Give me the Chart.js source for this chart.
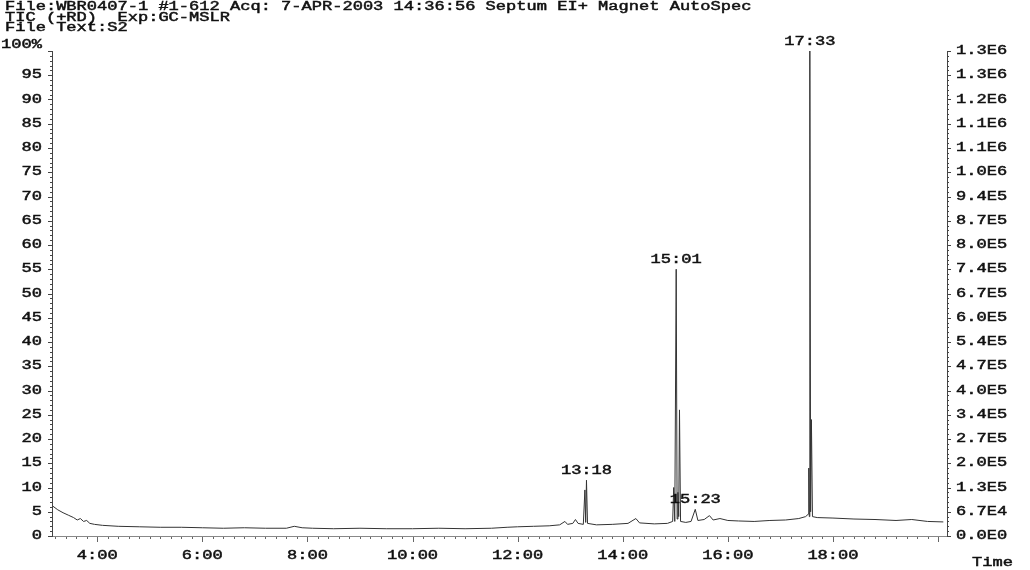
<!DOCTYPE html>
<html>
<head>
<meta charset="utf-8">
<script src="https://cdn.jsdelivr.net/npm/chart.js@4"></script>
<style>
  body { margin: 0; background: #fff; }
  #wrap { width: 1030px; height: 570px; }
</style>
</head>
<body>
<div id="wrap"><canvas id="tic" width="1030" height="570"></canvas></div>
<script>
// header lines of the printout
const headerLines = [
    'File:WBR0407-1 #1-612 Acq: 7-APR-2003 14:36:56 Septum EI+ Magnet AutoSpec',
    'TIC (+RD)  Exp:GC-MSLR',
    'File Text:S2'
];

// retention time (min) and relative intensity (%)
const waktu = [
    3.15, 3.25, 3.35, 3.45, 3.55, 3.62, 3.68, 3.74, 3.80, 3.86, 3.95, 4.10, 4.40, 4.80,
    5.20, 5.60, 6.00, 6.40, 6.80, 7.20, 7.60, 7.75, 7.90, 8.10, 8.50, 9.00, 9.50, 10.00,
    10.50, 11.00, 11.50, 11.80, 12.00, 12.30, 12.60, 12.80, 12.90, 12.95, 13.05, 13.10,
    13.15, 13.25, 13.28, 13.295, 13.31, 13.33, 13.50, 13.80, 14.10, 14.25, 14.32, 14.60,
    14.85, 14.95, 14.97, 14.99, 15.017, 15.035, 15.05, 15.065, 15.08, 15.10, 15.20, 15.30,
    15.38, 15.43, 15.55, 15.65, 15.72, 15.85, 16.00, 16.20, 16.50, 16.80, 17.10, 17.35,
    17.48, 17.53, 17.54, 17.55, 17.56, 17.575, 17.59, 17.61, 17.70, 18.00, 18.40, 18.80,
    19.20, 19.50, 19.80, 20.10
];
const intensitas = [
    6.2, 5.4, 4.8, 4.3, 3.8, 3.3, 3.6, 3.0, 3.2, 2.6, 2.4, 2.2, 2.0, 1.9,
    1.8, 1.8, 1.7, 1.6, 1.7, 1.6, 1.6, 2.0, 1.7, 1.6, 1.5, 1.6, 1.5, 1.5,
    1.6, 1.5, 1.6, 1.8, 1.9, 2.0, 2.1, 2.3, 3.0, 2.4, 2.6, 3.4,
    2.6, 2.4, 9.5, 2.8, 11.5, 2.6, 2.3, 2.4, 2.6, 3.6, 2.7, 2.5,
    2.6, 3.0, 10.0, 3.0, 55.0, 3.5, 9.0, 4.0, 26.0, 3.0, 2.8, 3.0,
    5.5, 3.2, 3.4, 4.2, 3.3, 3.6, 3.2, 3.1, 3.0, 3.2, 3.3, 3.6,
    4.0, 4.5, 14.0, 4.0, 100.0, 5.0, 24.0, 4.0, 3.8, 3.7, 3.5, 3.4,
    3.2, 3.4, 3.0, 2.9
];

// peak labels
const puncakWaktu = [13.31, 15.017, 15.38, 17.56];
const puncakNilai = [11.5, 55.0, 5.5, 100.0];
const puncakLabel = ['13:18', '15:01', '15:23', '17:33'];

// axis ticks
const xTicks = [4, 6, 8, 10, 12, 14, 16, 18];
const xTickLabels = ['4:00', '6:00', '8:00', '10:00', '12:00', '14:00', '16:00', '18:00'];
const yTicks = [100, 95, 90, 85, 80, 75, 70, 65, 60, 55, 50, 45, 40, 35, 30, 25, 20, 15, 10, 5, 0];
const yTickLabels = ['100%', '95', '90', '85', '80', '75', '70', '65', '60', '55', '50', '45', '40',
    '35', '30', '25', '20', '15', '10', '5', '0'];
const absMax = 1.34e6;
const absTickLabels = ['1.3E6', '1.3E6', '1.2E6', '1.1E6', '1.1E6', '1.0E6', '9.4E5', '8.7E5', '8.0E5',
    '7.4E5', '6.7E5', '6.0E5', '5.4E5', '4.7E5', '4.0E5', '3.4E5', '2.7E5', '2.0E5', '1.3E5', '6.7E4', '0.0E0'];

const SX = 1.42;
function teksLebar(ctx, str, x, y, align) {
    ctx.save();
    ctx.font = '12px "Liberation Mono"';
    ctx.fillStyle = '#111';
    ctx.strokeStyle = '#111';
    ctx.lineWidth = 0.45;
    const w = ctx.measureText(str).width * SX;
    let x0 = x;
    if (align === 'center') x0 = x - w / 2;
    if (align === 'right') x0 = x - w;
    ctx.translate(x0, y);
    ctx.scale(SX, 1);
    ctx.textAlign = 'left';
    ctx.textBaseline = 'middle';
    ctx.fillText(str, 0, 0);
    ctx.strokeText(str, 0, 0);
    ctx.restore();
}

const labelPlugin = {
    id: 'labelPlugin',
    afterDraw(chart) {
        const ctx = chart.ctx;
        const x = chart.scales.x, y = chart.scales.y, y2 = chart.scales.y2;
        const area = chart.chartArea;

        headerLines.forEach((t, i) => teksLebar(ctx, t, 5, 7 + i * 10.5, 'left'));

        ctx.save();
        ctx.strokeStyle = '#444';
        ctx.lineWidth = 1;
        // minor ticks on both vertical axes
        for (let v = 0; v <= 100; v++) {
            const py = Math.round(y.getPixelForValue(v)) + 0.5;
            const len = v % 5 === 0 ? 4 : 2;
            ctx.beginPath();
            ctx.moveTo(area.left - len, py); ctx.lineTo(area.left, py);
            ctx.moveTo(area.right, py); ctx.lineTo(area.right + len, py);
            ctx.stroke();
        }
        // ticks under the time axis
        ctx.strokeStyle = '#666';
        for (let t = 3.2; t <= 20.1; t += 0.2) {
            const px = Math.round(x.getPixelForValue(t)) + 0.5;
            const major = Math.abs(t - Math.round(t)) < 0.01 && Math.round(t) % 2 === 0;
            ctx.beginPath();
            ctx.moveTo(px, area.bottom + 1); ctx.lineTo(px, area.bottom + (major ? 6 : 3));
            ctx.stroke();
        }
        ctx.restore();

        yTicks.forEach((v, i) => {
            let py = y.getPixelForValue(v);
            if (v === 100) py -= 6;
            teksLebar(ctx, yTickLabels[i], area.left - 10, py, 'right');
            teksLebar(ctx, absTickLabels[i], area.right + 9, y2.getPixelForValue(v / 100 * absMax), 'left');
        });
        xTicks.forEach((v, i) => teksLebar(ctx, xTickLabels[i], x.getPixelForValue(v), area.bottom + 20, 'center'));
        teksLebar(ctx, 'Time', 1013, area.bottom + 27, 'right');

        puncakWaktu.forEach((t, i) => {
            teksLebar(ctx, puncakLabel[i], x.getPixelForValue(t), y.getPixelForValue(puncakNilai[i]) - 9, 'center');
        });
    }
};

const zeroW = s => { s.width = 0; };
new Chart(document.getElementById('tic').getContext('2d'), {
    type: 'line',
    data: {
        datasets: [{
            data: waktu.map((t, i) => ({ x: t, y: intensitas[i] })),
            borderColor: '#333',
            borderWidth: 1,
            pointRadius: 0,
            tension: 0,
            yAxisID: 'y'
        }]
    },
    options: {
        responsive: false,
        animation: false,
        events: [],
        layout: { padding: { left: 52, right: 83, top: 51, bottom: 34 } },
        plugins: { legend: { display: false }, tooltip: { enabled: false } },
        scales: {
            x: {
                type: 'linear', min: 3.14, max: 20.17,
                ticks: { display: false },
                grid: { display: false },
                border: { display: true, color: '#888', dash: [5, 3] },
                afterFit: s => { s.height = 0; }
            },
            y: {
                position: 'left', min: 0, max: 100,
                ticks: { display: false },
                grid: { display: false },
                border: { display: true, color: '#444' },
                afterFit: zeroW
            },
            y2: {
                position: 'right', min: 0, max: absMax,
                ticks: { display: false },
                grid: { display: false },
                border: { display: true, color: '#444' },
                afterFit: zeroW
            }
        }
    },
    plugins: [labelPlugin]
});
</script>
</body>
</html>
